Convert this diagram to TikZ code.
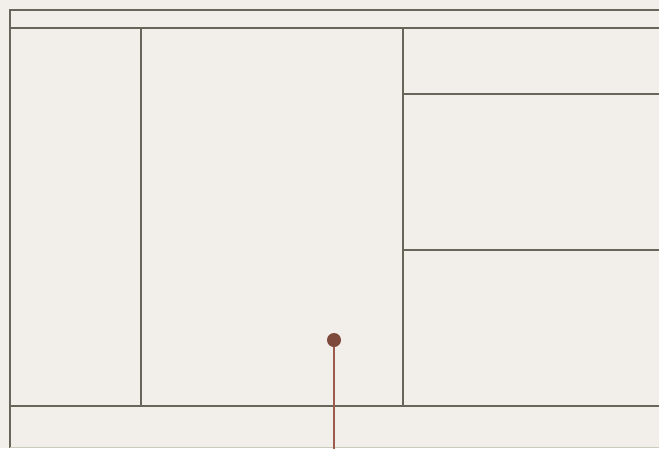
\documentclass[tikz,border=0pt]{standalone}
\definecolor{bg}{HTML}{F2EEEA}
\definecolor{frame}{HTML}{66665A}
\definecolor{faint}{HTML}{C8CCBC}
\definecolor{dotc}{HTML}{7E4A3C}
\definecolor{linkc}{HTML}{9A5A4C}
\tikzset{
  wall/.style={draw=frame, line width=1.3pt},
  dotnode/.style={circle, fill=dotc, inner sep=0pt, minimum size=14pt},
  link/.style={draw=linkc, line width=1.1pt}
}
\begin{document}
\begin{tikzpicture}[x=1pt,y=-1pt]
\fill[bg] (0,0) rectangle (659,448);
\useasboundingbox (0,0) rectangle (659,448);
% outer frame
\draw[wall] (670,10) -- (10,10) -- (10,448);
\draw[wall] (10,28) -- (670,28);
\draw[wall] (10,406) -- (670,406);
\draw[wall] (141,28) -- (141,406);
\draw[wall] (403,28) -- (403,406);
\draw[wall] (403,94) -- (670,94);
\draw[wall] (403,250) -- (670,250);
\draw[faint, line width=1pt] (10,447.5) -- (670,447.5);
% dot and connector
\node[dotnode] (pin) at (334,340) {};
\coordinate (pinend) at (334,449);
\draw[link] (pin.south) -- (pinend);
\end{tikzpicture}
\end{document}
